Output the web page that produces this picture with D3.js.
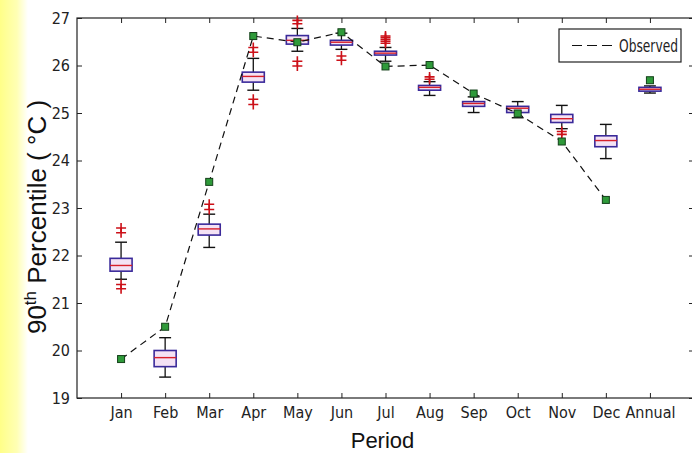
<!DOCTYPE html>
<html>
<head>
<meta charset="utf-8">
<script src="https://cdn.jsdelivr.net/npm/d3@7"></script>
<style>
  html, body { margin: 0; padding: 0; background: #fff; }
  svg { display: block; }
  .tick text, .narrow { font-family: "Liberation Sans Narrow", "DejaVu Sans Condensed", "Arial Narrow", sans-serif; font-stretch: condensed; font-size: 15px; fill: #222; }
  .title { font-family: "Liberation Sans", Arial, sans-serif; fill: #111; }
</style>
</head>
<body>
<div id="chart"></div>
<script>
// Box plot of 90th percentile temperatures per period, with observed values
const categories = ["Jan", "Feb", "Mar", "Apr", "May", "Jun", "Jul", "Aug", "Sep", "Oct", "Nov", "Dec", "Annual"]
const whiskerLow  = [21.50, 19.44, 22.17, 25.48, 26.30, 26.34, 26.09, 25.37, 25.01, 24.90, 24.67, 24.04, 25.42]
const quart1      = [21.67, 19.66, 22.43, 25.65, 26.45, 26.43, 26.22, 25.48, 25.14, 25.01, 24.80, 24.29, 25.46]
const medians     = [21.79, 19.85, 22.56, 25.77, 26.53, 26.49, 26.26, 25.54, 25.20, 25.10, 24.88, 24.42, 25.50]
const quart3      = [21.94, 20.00, 22.66, 25.86, 26.63, 26.53, 26.30, 25.58, 25.24, 25.14, 24.97, 24.52, 25.54]
const whiskerHigh = [22.28, 20.27, 22.87, 26.15, 26.78, 26.68, 26.38, 25.66, 25.34, 25.24, 25.16, 24.76, 25.57]
const outliers = [
  [22.58, 22.48, 21.39, 21.30],
  [],
  [23.08, 22.97],
  [26.38, 26.28, 25.29, 25.18],
  [26.95, 26.88, 26.09, 25.99],
  [26.20, 26.11],
  [26.47, 26.51, 26.55, 26.59, 26.62],
  [25.76, 25.71],
  [],
  [],
  [24.61, 24.55],
  [],
  []
]
const observed = [19.82, 20.50, 23.55, 26.62, 26.49, 26.70, 25.98, 26.01, 25.41, 24.99, 24.40, 23.17, 25.69]
const yTicks = [19, 20, 21, 22, 23, 24, 25, 26, 27]

const W = 692, H = 453
const plot = { left: 77, top: 18, right: 694, bottom: 398 }

const svg = d3.select("#chart").append("svg")
  .attr("width", W).attr("height", H)

// yellow strip on the left edge
const grad = svg.append("defs").append("linearGradient")
  .attr("id", "strip").attr("x1", 0).attr("x2", 1).attr("y1", 0).attr("y2", 0)
grad.append("stop").attr("offset", "0%").attr("stop-color", "#ffff88")
grad.append("stop").attr("offset", "60%").attr("stop-color", "#ffffb4")
grad.append("stop").attr("offset", "100%").attr("stop-color", "#ffffff")
svg.append("rect").attr("x", 0).attr("y", 0).attr("width", 28).attr("height", H).attr("fill", "url(#strip)")

const x = d3.scaleLinear().domain([0, 14]).range([plot.left, plot.right])
const y = d3.scaleLinear().domain([19, 27]).range([plot.bottom, plot.top])
const idx = d3.range(categories.length)

// frame
svg.append("rect")
  .attr("x", plot.left).attr("y", plot.top)
  .attr("width", plot.right - plot.left).attr("height", plot.bottom - plot.top)
  .attr("fill", "#fff").attr("stroke", "#222").attr("stroke-width", 1.2)

// axes with inward ticks
const xAxis = d3.axisBottom(x).tickValues(idx.map(i => i + 1))
  .tickFormat(d => categories[d - 1]).tickSize(-5).tickPadding(9)
svg.append("g").attr("transform", `translate(0,${plot.bottom})`).call(xAxis)
  .call(g => g.select(".domain").remove())

svg.append("g").attr("transform", `translate(0,${plot.top})`)
  .call(d3.axisTop(x).tickValues(idx.map(i => i + 1)).tickSize(-5).tickFormat(""))
  .call(g => g.select(".domain").remove())

svg.append("g").attr("transform", `translate(${plot.left},0)`)
  .call(d3.axisLeft(y).tickValues(yTicks).tickSize(-5).tickPadding(7).tickFormat(d3.format("d")))
  .call(g => g.select(".domain").remove())

svg.append("g").attr("transform", `translate(${plot.right},0)`)
  .call(d3.axisRight(y).tickValues(yTicks).tickSize(-5).tickFormat(""))
  .call(g => g.select(".domain").remove())

svg.selectAll(".tick line").attr("stroke", "#222")
svg.selectAll(".tick text").style("font-size", "16px")

// boxes
const boxW = 0.5 * (x(1) - x(0))
const capW = 0.27 * (x(1) - x(0))
const boxes = svg.append("g").selectAll("g").data(idx).enter().append("g")

boxes.append("line")
  .attr("x1", i => x(i + 1)).attr("x2", i => x(i + 1))
  .attr("y1", i => y(quart3[i])).attr("y2", i => y(whiskerHigh[i]))
  .attr("stroke", "#111").attr("stroke-width", 1.3)
boxes.append("line")
  .attr("x1", i => x(i + 1)).attr("x2", i => x(i + 1))
  .attr("y1", i => y(quart1[i])).attr("y2", i => y(whiskerLow[i]))
  .attr("stroke", "#111").attr("stroke-width", 1.3)
boxes.append("line")
  .attr("x1", i => x(i + 1) - capW / 2).attr("x2", i => x(i + 1) + capW / 2)
  .attr("y1", i => y(whiskerHigh[i])).attr("y2", i => y(whiskerHigh[i]))
  .attr("stroke", "#111").attr("stroke-width", 1.4)
boxes.append("line")
  .attr("x1", i => x(i + 1) - capW / 2).attr("x2", i => x(i + 1) + capW / 2)
  .attr("y1", i => y(whiskerLow[i])).attr("y2", i => y(whiskerLow[i]))
  .attr("stroke", "#111").attr("stroke-width", 1.4)
boxes.append("rect")
  .attr("x", i => x(i + 1) - boxW / 2).attr("width", boxW)
  .attr("y", i => y(quart3[i])).attr("height", i => y(quart1[i]) - y(quart3[i]))
  .attr("fill", "#f4e2f4").attr("stroke", "#3a2a9a").attr("stroke-width", 1.6)
boxes.append("line")
  .attr("x1", i => x(i + 1) - boxW / 2).attr("x2", i => x(i + 1) + boxW / 2)
  .attr("y1", i => y(medians[i])).attr("y2", i => y(medians[i]))
  .attr("stroke", "#d8202a").attr("stroke-width", 1.4)

// outliers as red plus signs
const outPts = idx.flatMap(i => outliers[i].map(v => ({ i, v })))
svg.append("g").selectAll("path").data(outPts).enter().append("path")
  .attr("d", d => {
    const cx = x(d.i + 1), cy = y(d.v)
    return `M${cx - 5},${cy}H${cx + 5}M${cx},${cy - 5}V${cy + 5}`
  })
  .attr("stroke", "#cc1018").attr("stroke-width", 1.6).attr("fill", "none")

// observed dashed line (months only)
const line = d3.line().x(i => x(i + 1)).y(i => y(observed[i]))
svg.append("path").datum(idx.slice(0, 12))
  .attr("d", line).attr("fill", "none")
  .attr("stroke", "#111").attr("stroke-width", 1.2).attr("stroke-dasharray", "7,5")

svg.append("g").selectAll("rect").data(idx).enter().append("rect")
  .attr("x", i => x(i + 1) - 3.5).attr("y", i => y(observed[i]) - 3.5)
  .attr("width", 7).attr("height", 7)
  .attr("fill", "#2f9a3a").attr("stroke", "#14401a").attr("stroke-width", 1)

// legend
const lg = svg.append("g").attr("transform", "translate(559,29)")
lg.append("rect").attr("width", 122).attr("height", 33)
  .attr("fill", "#fff").attr("stroke", "#222").attr("stroke-width", 1.2)
lg.append("line").attr("x1", 13).attr("x2", 58).attr("y1", 16.5).attr("y2", 16.5)
  .attr("stroke", "#111").attr("stroke-width", 1.2).attr("stroke-dasharray", "10,5")
lg.append("text").attr("class", "narrow").attr("x", 60).attr("y", 23)
  .attr("textLength", 59).attr("lengthAdjust", "spacingAndGlyphs")
  .style("font-size", "17px").text("Observed")

// axis titles
svg.append("text").attr("class", "title")
  .attr("x", (plot.left + 692) / 2 - 2).attr("y", 448)
  .attr("text-anchor", "middle").attr("font-size", 22).text("Period")

const yt = svg.append("text").attr("class", "title")
  .attr("transform", `translate(46,${217}) rotate(-90)`)
  .attr("text-anchor", "middle").attr("font-size", 26)
yt.append("tspan").text("90")
yt.append("tspan").attr("dy", -10).attr("font-size", 17).text("th")
yt.append("tspan").attr("dy", 10).text(" Percentile ( °C )")
</script>
</body>
</html>
